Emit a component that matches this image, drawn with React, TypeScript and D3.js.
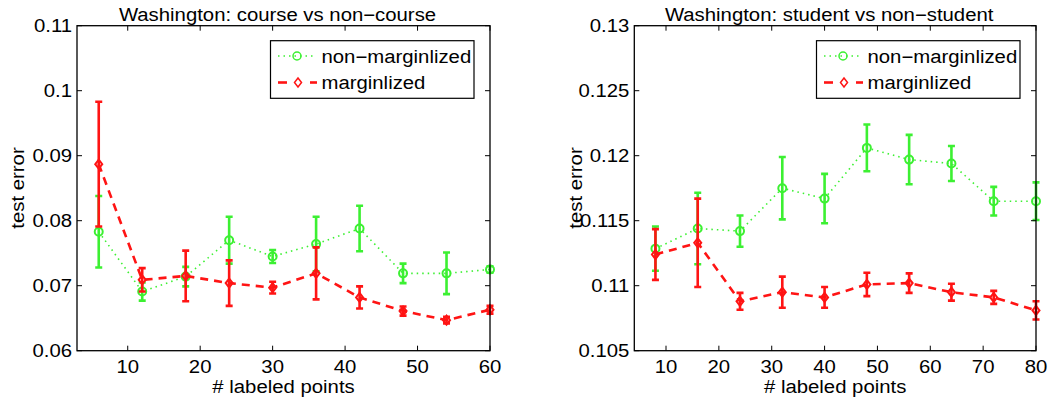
import React, { useEffect } from "react";
import * as d3 from "d3";

// ---------- data ----------
const leftX = [6, 12, 18, 24, 30, 36, 42, 48, 54, 60];
const leftNonMarg = [0.0783, 0.0691, 0.0714, 0.077, 0.0745, 0.0764, 0.0788, 0.0719, 0.0719, 0.0725];
const leftNonMargErr = [0.0055, 0.0014, 0.0015, 0.0036, 0.001, 0.0042, 0.0035, 0.0015, 0.0032, 0.0005];
const leftMarg = [0.0887, 0.0709, 0.0715, 0.0704, 0.0697, 0.0719, 0.0682, 0.0661, 0.0647, 0.0663];
const leftMargErr = [0.0096, 0.0018, 0.0039, 0.0035, 0.0009, 0.004, 0.0017, 0.0007, 0.0005, 0.0006];

const rightX = [8, 16, 24, 32, 40, 48, 56, 64, 72, 80];
const rightNonMarg = [0.11285, 0.1144, 0.1142, 0.1175, 0.1167, 0.1206, 0.1197, 0.1194, 0.1165, 0.1165];
const rightNonMargErr = [0.0017, 0.00275, 0.0012, 0.0024, 0.0019, 0.0018, 0.0019, 0.00135, 0.0011, 0.00145];
const rightMarg = [0.1124, 0.1133, 0.1088, 0.1095, 0.1091, 0.1101, 0.1102, 0.1095, 0.1091, 0.1081];
const rightMargErr = [0.00195, 0.0034, 0.00065, 0.0012, 0.0008, 0.0009, 0.00075, 0.00065, 0.0005, 0.0007];

const leftXTicks = [10, 20, 30, 40, 50, 60];
const leftYTicks = [0.06, 0.07, 0.08, 0.09, 0.1, 0.11];
const rightXTicks = [10, 20, 30, 40, 50, 60, 70, 80];
const rightYTicks = [0.105, 0.11, 0.115, 0.12, 0.125, 0.13];

const seriesNames = ["non\u2212marginlized", "marginlized"];
const titles = ["Washington: course vs non\u2212course", "Washington: student vs non\u2212student"];
const xLabel = "# labeled points";
const yLabel = "test error";

// ---------- style ----------
const GREEN = "#3cf032";
const RED = "#ff1414";
const FONT = "'Liberation Sans', Arial, Helvetica, sans-serif";
const FS = 18;
const SX = 1.13;

function T({ x, y, children, anchor = "start", rotate = 0 }: any) {
  const tr = rotate
    ? `translate(${x},${y}) rotate(${rotate}) scale(${SX},1)`
    : `translate(${x},${y}) scale(${SX},1)`;
  return (
    <text transform={tr} textAnchor={anchor} fontFamily={FONT} fontSize={FS} fill="#000">
      {children}
    </text>
  );
}

function diamondPath(cx: number, cy: number) {
  const w = 3.5, h = 4.5;
  return `M${cx},${cy - h}L${cx + w},${cy}L${cx},${cy + h}L${cx - w},${cy}Z`;
}

function Series({ xs, ys, es, x, y, color, kind }: any) {
  const line = d3
    .line<number>()
    .x((_, i) => x(xs[i]))
    .y((d) => y(d));
  const dash = kind === "circle" ? "1.5,4" : "8,6";
  const lw = kind === "circle" ? 1.6 : 2.6;
  return (
    <g>
      <path d={line(ys) || ""} fill="none" stroke={color} strokeWidth={lw} strokeDasharray={dash} />
      {ys.map((v: number, i: number) => {
        const cx = x(xs[i]);
        const t = y(v + es[i]);
        const b = y(v - es[i]);
        return (
          <g key={i} stroke={color} strokeWidth={2.6} fill="none">
            <line x1={cx} x2={cx} y1={t} y2={b} />
            <line x1={cx - 3.5} x2={cx + 3.5} y1={t} y2={t} />
            <line x1={cx - 3.5} x2={cx + 3.5} y1={b} y2={b} />
            {kind === "circle" ? (
              <circle cx={cx} cy={y(v)} r={4} strokeWidth={2} />
            ) : (
              <path d={diamondPath(cx, y(v))} strokeWidth={2} />
            )}
          </g>
        );
      })}
    </g>
  );
}

function Panel({ left, right, top, bottom, xDomain, yDomain, xTicks, yTicks, yFmt, title, xs, g, ge, r, re }: any) {
  const x = d3.scaleLinear().domain(xDomain).range([left, right]);
  const y = d3.scaleLinear().domain(yDomain).range([bottom, top]);
  const tl = 5;
  const lx = left + (right - left) * 0.471;
  return (
    <g>
      <defs>
        <clipPath id={`clip${left}`}>
          <rect x={left - 6} y={top - 2} width={right - left + 12} height={bottom - top + 4} />
        </clipPath>
      </defs>
      <g clipPath={`url(#clip${left})`}>
        <Series xs={xs} ys={g} es={ge} x={x} y={y} color={GREEN} kind="circle" />
        <Series xs={xs} ys={r} es={re} x={x} y={y} color={RED} kind="diamond" />
      </g>
      <rect x={left} y={top} width={right - left} height={bottom - top} fill="none" stroke="#000" strokeWidth={1.3} />
      {xTicks.map((t: number) => (
        <g key={"x" + t}>
          <line x1={x(t)} x2={x(t)} y1={bottom} y2={bottom - tl} stroke="#000" strokeWidth={1} />
          <line x1={x(t)} x2={x(t)} y1={top} y2={top + tl} stroke="#000" strokeWidth={1} />
          <T x={x(t)} y={bottom + 22} anchor="middle">{String(t)}</T>
        </g>
      ))}
      {yTicks.map((t: number) => (
        <g key={"y" + t}>
          <line x1={left} x2={left + tl} y1={y(t)} y2={y(t)} stroke="#000" strokeWidth={1} />
          <line x1={right} x2={right - tl} y1={y(t)} y2={y(t)} stroke="#000" strokeWidth={1} />
          <T x={left - 5} y={y(t) + 6.5} anchor="end">{yFmt(t)}</T>
        </g>
      ))}
      <T x={(left + right) / 2 - 6} y={21} anchor="middle">{title}</T>
      <T x={(left + right) / 2} y={393} anchor="middle">{xLabel}</T>
      {/* legend */}
      <g>
        <rect x={right - 219.5} y={40.7} width={203.5} height={57.6} fill="#fff" stroke="#000" strokeWidth={1.2} />
        <line x1={right - 212} x2={right - 177} y1={56} y2={56} stroke={GREEN} strokeWidth={1.6} strokeDasharray="1.5,4" />
        <circle cx={right - 193} cy={56} r={4} fill="none" stroke={GREEN} strokeWidth={1.5} />
        <T x={right - 168.5} y={62.5}>{seriesNames[0]}</T>
        <line x1={right - 212} x2={right - 203} y1={82.5} y2={82.5} stroke={RED} strokeWidth={2.6} />
        <line x1={right - 180} x2={right - 173} y1={82.5} y2={82.5} stroke={RED} strokeWidth={2.6} />
        <path d={diamondPath(right - 192, 82.5)} fill="none" stroke={RED} strokeWidth={1.5} />
        <T x={right - 168.5} y={89}>{seriesNames[1]}</T>
      </g>
      <T x={lx} y={0} anchor="middle">{""}</T>
    </g>
  );
}

export default function App() {
  useEffect(() => {
    document.body.style.margin = "0";
  }, []);
  const fmt = (v: number) => String(+v.toFixed(3));
  return (
    <svg width={1049} height={402} style={{ display: "block", background: "#fff" }}>
      <rect x={0} y={0} width={1049} height={402} fill="#fff" />
      <Panel
        left={77} right={490} top={25.7} bottom={350.7}
        xDomain={[3, 60]} yDomain={[0.06, 0.11]}
        xTicks={leftXTicks} yTicks={leftYTicks} yFmt={fmt}
        title={titles[0]} xs={leftX}
        g={leftNonMarg} ge={leftNonMargErr} r={leftMarg} re={leftMargErr}
      />
      <Panel
        left={634.3} right={1036} top={25.7} bottom={350.7}
        xDomain={[4, 80]} yDomain={[0.105, 0.13]}
        xTicks={rightXTicks} yTicks={rightYTicks} yFmt={fmt}
        title={titles[1]} xs={rightX}
        g={rightNonMarg} ge={rightNonMargErr} r={rightMarg} re={rightMargErr}
      />
      <T x={24} y={188} anchor="middle" rotate={-90}>{yLabel}</T>
      <T x={582} y={188} anchor="middle" rotate={-90}>{yLabel}</T>
    </svg>
  );
}
